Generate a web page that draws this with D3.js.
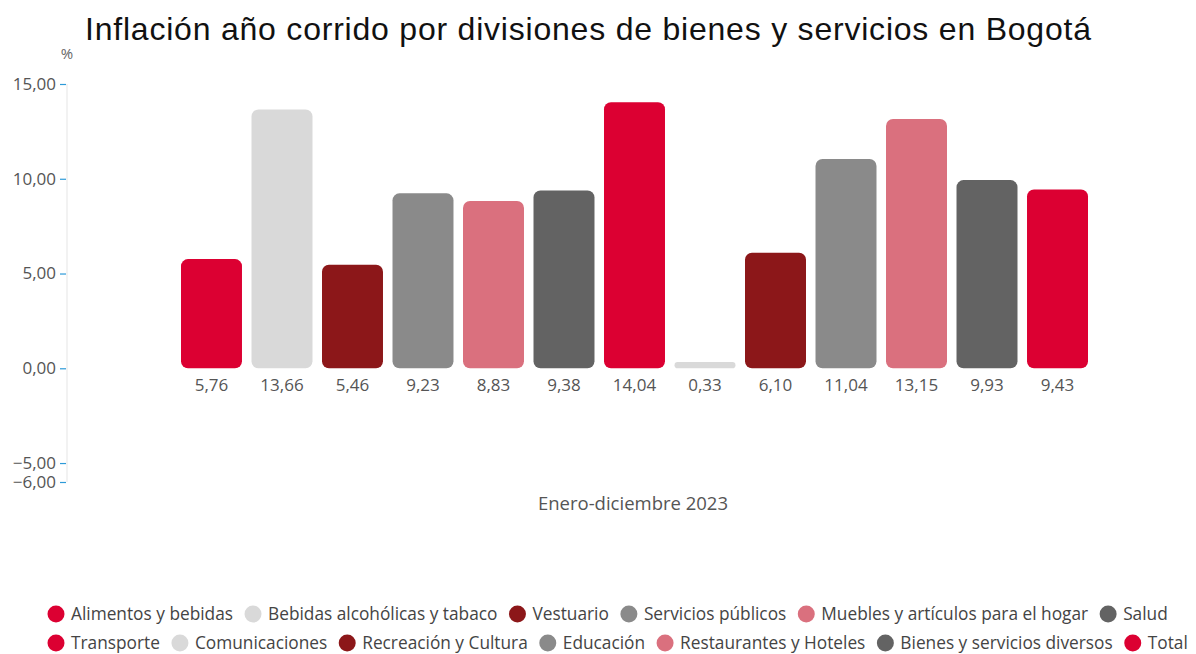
<!DOCTYPE html>
<html>
<head>
<meta charset="utf-8">
<script src="https://cdn.jsdelivr.net/npm/d3@7"></script>
<style>
  body { margin: 0; background: #fff; }
  text { font-family: "Open Sans", "Noto Sans", sans-serif; }
</style>
</head>
<body>
<svg id="chart" width="1196" height="654"></svg>
<script>
// datos
const categories = [
  "Alimentos y bebidas", "Bebidas alcohólicas y tabaco", "Vestuario",
  "Servicios públicos", "Muebles y artículos para el hogar", "Salud",
  "Transporte", "Comunicaciones", "Recreación y Cultura", "Educación",
  "Restaurantes y Hoteles", "Bienes y servicios diversos", "Total"
];
const values = [5.76, 13.66, 5.46, 9.23, 8.83, 9.38, 14.04, 0.33, 6.10, 11.04, 13.15, 9.93, 9.43];
const colors = [
  "#dc0032", "#d9d9d9", "#8c1719", "#8a8a8a", "#da707e", "#636363",
  "#dc0032", "#d9d9d9", "#8c1719", "#8a8a8a", "#da707e", "#636363", "#dc0032"
];
const yTicks = [15, 10, 5, 0, -5, -6];
const legendRows = [
  [0, 1, 2, 3, 4, 5],
  [6, 7, 8, 9, 10, 11, 12]
];

const svg = d3.select("#chart");
const fmt = (v) => d3.format(".2f")(v).replace(".", ",");

// escalas
const y = d3.scaleLinear().domain([-6, 15]).range([482, 84]);
const x = d3.scaleBand()
  .domain(d3.range(categories.length))
  .range([181, 1088])
  .paddingInner(0.135)
  .paddingOuter(0);

// titulo
svg.append("text")
  .attr("x", 85)
  .attr("y", 40)
  .attr("font-size", 32)
  .attr("fill", "#111")
  .attr("textLength", 1006)
  .attr("lengthAdjust", "spacing")
  .style("font-family", "'Liberation Sans', Arial, sans-serif")
  .text("Inflación año corrido por divisiones de bienes y servicios en Bogotá");

svg.append("text")
  .attr("x", 67)
  .attr("y", 59)
  .attr("text-anchor", "middle")
  .attr("font-size", 15)
  .attr("fill", "#666")
  .text("%");

// eje y
svg.append("line")
  .attr("x1", 67).attr("x2", 67)
  .attr("y1", y(15)).attr("y2", y(-6))
  .attr("stroke", "#eeeeee")
  .attr("stroke-width", 1.5);

const yAxis = d3.axisLeft(y)
  .tickValues(yTicks)
  .tickSize(6)
  .tickPadding(4)
  .tickFormat(fmt);

const gy = svg.append("g")
  .attr("transform", "translate(66,0)")
  .call(yAxis);
gy.select(".domain").remove();
gy.selectAll(".tick line").attr("stroke", "#2d9ad8").attr("stroke-width", 1.2);
gy.selectAll(".tick text")
  .attr("fill", "#555")
  .attr("font-size", 17)
  .style("font-family", "'Open Sans', sans-serif");

// barras
const radius = 7;
svg.append("g")
  .selectAll("rect")
  .data(values)
  .join("rect")
  .attr("x", (d, i) => x(i))
  .attr("width", x.bandwidth())
  .attr("y", (d) => y(Math.max(0, d)))
  .attr("height", (d) => Math.abs(y(d) - y(0)))
  .attr("rx", (d) => Math.min(radius, Math.abs(y(d) - y(0)) / 2))
  .attr("fill", (d, i) => colors[i]);

// etiquetas de valor
svg.append("g")
  .selectAll("text")
  .data(values)
  .join("text")
  .attr("x", (d, i) => x(i) + x.bandwidth() / 2)
  .attr("y", y(0) + 23)
  .attr("text-anchor", "middle")
  .attr("font-size", 17)
  .attr("fill", "#555")
  .text((d) => fmt(d));

// etiqueta eje x
svg.append("text")
  .attr("x", 633)
  .attr("y", 510)
  .attr("text-anchor", "middle")
  .attr("font-size", 18.5)
  .attr("fill", "#555")
  .text("Enero-diciembre 2023");

// leyenda
const legendY = [614, 643];
legendRows.forEach((row, r) => {
  let cx = 56;
  row.forEach((i) => {
    const g = svg.append("g");
    g.append("circle")
      .attr("cx", cx)
      .attr("cy", legendY[r])
      .attr("r", 8.5)
      .attr("fill", colors[i]);
    const t = g.append("text")
      .attr("x", cx + 15)
      .attr("y", legendY[r] + 6)
      .attr("font-size", 17.3)
      .attr("fill", "#444")
      .text(categories[i]);
    cx += 15 + t.node().getComputedTextLength() + 20;
  });
});
</script>
</body>
</html>
